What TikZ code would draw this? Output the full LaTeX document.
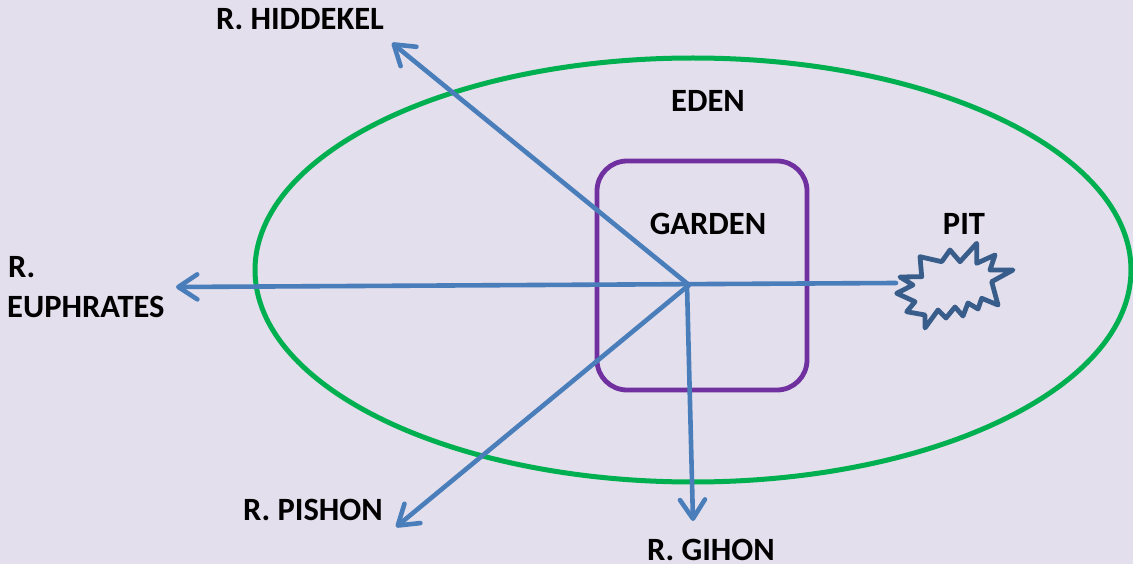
\documentclass[tikz,border=0pt]{standalone}
\usepackage{fontspec}
\setmainfont{Carlito}
\usetikzlibrary{arrows.meta}
\definecolor{bgc}{RGB}{227,223,236}
\definecolor{edengreen}{RGB}{0,176,80}
\definecolor{gardenpurple}{RGB}{112,48,160}
\definecolor{riverblue}{RGB}{74,126,187}
\definecolor{pitblue}{RGB}{56,93,138}
\tikzset{
  lbl/.style={font=\fontsize{32.5}{39}\selectfont\bfseries, inner sep=0pt, text=black},
  river/.style={draw=riverblue, line width=4.6pt, line cap=round,
    -{Straight Barb[length=19pt,width=25pt,round]}},
}
\begin{document}
\begin{tikzpicture}[x=1pt,y=-1pt]
\fill[bgc] (0,0) rectangle (1133,564);
\useasboundingbox (0,0) rectangle (1133,564);
% Eden
\draw[edengreen, line width=5pt] (693,270) ellipse [x radius=438, y radius=212];
% Garden
\node[draw=gardenpurple, line width=4.8pt, rounded corners=30pt, minimum width=210pt, minimum height=229pt, inner sep=0pt] (garden) at (702,275.5) {};
% Pit
\draw[pitblue, line width=4.8pt, line join=round] (900,277) -- (921.7,276.7) -- (920,256.7) -- (941.7,261.7) -- (950,250) -- (960,261.7) -- (976.7,243.3) -- (976.7,263.3) -- (995,255) -- (990,270) -- (1013,270) -- (991.7,281.7) -- (998,305) -- (981.7,298.3) -- (978,309) -- (968,303) -- (963,316) -- (955,307) -- (946,318) -- (938,310) -- (925,328) -- (925,315) -- (906.7,311.7) -- (915,301.7) -- (896.7,293.3) -- (913,285) -- cycle;
\coordinate (pit) at (896,283);
\coordinate (c) at (689,285);
\coordinate (hid) at (392,43);
\coordinate (eup) at (176,287);
\coordinate (pis) at (396,527);
\coordinate (gih) at (693,521);
% rivers
\draw[river] (pit) -- (eup);
\draw[river] (c) -- (hid);
\draw[river] (c) -- (pis);
\draw[river] (687,285) -- (gih);
% labels
\node[lbl, anchor=base] (lhid) at (300,30) {R. HIDDEKEL};
\node[lbl, anchor=base] (leden) at (708,112) {EDEN};
\node[lbl, anchor=base] (lgarden) at (708,235) {GARDEN};
\node[lbl, anchor=base] (lpit) at (964,235) {PIT};
\node[lbl, anchor=base west] (leup1) at (8,278) {R.};
\node[lbl, anchor=base west] (leup2) at (7,317) {EUPHRATES};
\node[lbl, anchor=base] (lpis) at (313,520) {R. PISHON};
\node[lbl, anchor=base] (lgih) at (711,560) {R. GIHON};
\end{tikzpicture}
\end{document}
